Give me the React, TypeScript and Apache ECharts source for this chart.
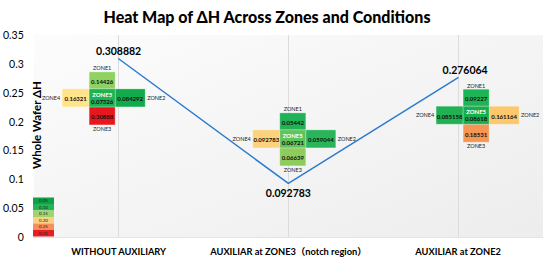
import React, { useEffect, useRef } from 'react';
import * as echarts from 'echarts';

const chartTitle = 'Heat Map of ΔH Across Zones and Conditions';
const yAxisTitle = 'Whole Wafer ΔH';
const conditions = ['WITHOUT AUXILIARY', 'AUXILIAR at ZONE3（notch region）', 'AUXILIAR at ZONE2'];
const wholeWaferDH = [0.308882, 0.092783, 0.276064];

const zoneNames = ['ZONE1', 'ZONE2', 'ZONE3', 'ZONE4', 'ZONE5'];
const zone1Values = [0.14426, 0.05442, 0.09227];
const zone2Values = [0.084292, 0.059044, 0.161164];
const zone3Values = [0.30888, 0.06639, 0.18531];
const zone4Values = [0.16321, 0.092783, 0.085158];
const zone5Values = [0.07326, 0.06721, 0.08618];

const zone1Colors = ['#8fd262', '#20b256', '#1db455'];
const zone2Colors = ['#12ab4b', '#2bb55a', '#fcc86e'];
const zone3Colors = ['#e8171d', '#8fcc5e', '#f79654'];
const zone4Colors = ['#ffe48a', '#fcd27c', '#1fb152'];
const zone5Colors = ['#1db254', '#60c35d', '#17ae4f'];

// cross centre: y in axis units, x shift in fractions of a category band
const crossAnchorY = [0.241, 0.17, 0.211];
const crossShift = [-0.097, 0.026, 0.106];

const legendLabels = ['0.05', '0.10', '0.15', '0.20', '0.25', '0.31'];
const legendColors = ['#10a048', '#24b457', '#a3d36b', '#fdd185', '#f6905a', '#e61e25'];

const FONT = 'Lato, "Noto Sans CJK SC", sans-serif';

function fmt(v: number) {
  return String(v);
}

function buildOption() {
  const legendGraphics: any[] = [];
  legendLabels.forEach((lab, i) => {
    legendGraphics.push({
      type: 'rect',
      shape: { x: 33, y: 197.5 + i * 6.5, width: 21, height: 6.5 },
      style: { fill: legendColors[i] },
      z: 10,
    });
    legendGraphics.push({
      type: 'text',
      x: 43.5,
      y: 197.5 + i * 6.5 + 3.4,
      style: {
        text: lab,
        fill: '#222',
        fontSize: 4.5,
        fontFamily: FONT,
        align: 'center',
        verticalAlign: 'middle',
      },
      z: 11,
    });
  });

  return {
    animation: false,
    backgroundColor: '#ffffff',
    title: {
      text: chartTitle,
      left: 262,
      top: 3,
      textAlign: 'center',
      textStyle: { fontFamily: FONT, fontWeight: 900, fontSize: 16, color: '#000' },
    },
    grid: {
      left: 33,
      right: 7,
      top: 35,
      bottom: 22,
      show: true,
      borderWidth: 0,
      backgroundColor: new echarts.graphic.LinearGradient(0, 0, 1, 1, [
        { offset: 0, color: '#fcfcfc' },
        { offset: 1, color: '#ededed' },
      ]),
    },
    xAxis: {
      type: 'category',
      data: conditions,
      axisLine: { show: true, lineStyle: { color: '#e4e4e4' } },
      axisTick: { show: false },
      axisLabel: {
        fontFamily: FONT,
        fontWeight: 'bold',
        fontSize: 9.3,
        color: '#000',
        margin: 10,
        interval: 0,
      },
      splitLine: { show: false },
    },
    yAxis: {
      type: 'value',
      min: 0,
      max: 0.35,
      interval: 0.05,
      axisLine: { show: false },
      axisTick: { show: false },
      splitLine: { show: false },
      axisLabel: { fontFamily: FONT, fontSize: 10.5, color: '#000', margin: 10 },
    },
    graphic: [
      {
        type: 'text',
        x: 36.5,
        y: 125,
        rotation: Math.PI / 2,
        style: {
          text: yAxisTitle,
          fill: '#000',
          fontSize: 11.5,
          fontWeight: 'bold',
          fontFamily: FONT,
          align: 'center',
          verticalAlign: 'middle',
        },
        z: 10,
      },
      ...legendGraphics,
    ],
    series: [
      {
        type: 'line',
        data: [],
        z: 1,
        silent: true,
        markLine: {
          z: 1,
          silent: true,
          symbol: ['none', 'none'],
          label: { show: false },
          lineStyle: { color: '#dcdcdc', type: 'solid', width: 1 },
          data: conditions.map((c) => ({ xAxis: c })),
        },
      },
      {
        type: 'line',
        data: wholeWaferDH.map((v, i) => ({
          value: v,
          label:
            i === 1
              ? { position: 'bottom', distance: 4 }
              : i === 2
              ? { position: 'top', offset: [7, 0], distance: 2 }
              : { position: 'top', distance: 2 },
        })),
        z: 3,
        symbol: 'circle',
        symbolSize: 1,
        lineStyle: { color: '#2b7bd0', width: 1.5 },
        itemStyle: { color: '#2b7bd0' },
        label: {
          show: true,
          fontFamily: FONT,
          fontWeight: 'bold',
          fontSize: 10.5,
          color: '#000',
          formatter: (p: any) => fmt(p.value),
        },
      },
      {
        type: 'custom',
        z: 5,
        data: conditions.map((c, i) => [i, crossAnchorY[i]]),
        renderItem: (params: any, api: any) => {
          const i = params.dataIndex;
          const base = api.coord([api.value(0), api.value(1)]);
          const band = api.size([1, 0])[0];
          const cx = base[0] + crossShift[i] * band;
          const cy = base[1];
          const cells = [
            { zone: 0, x: -13, y: -26, w: 26, h: 17, v: zone1Values[i], c: zone1Colors[i] },
            { zone: 1, x: 13, y: -9, w: 30, h: 18, v: zone2Values[i], c: zone2Colors[i] },
            { zone: 2, x: -13, y: 9, w: 26, h: 18, v: zone3Values[i], c: zone3Colors[i] },
            { zone: 3, x: -40, y: -9, w: 27, h: 18, v: zone4Values[i], c: zone4Colors[i] },
            { zone: 4, x: -13, y: -9, w: 26, h: 18, v: zone5Values[i], c: zone5Colors[i] },
          ];
          const children: any[] = [];
          const valStyle = {
            fill: '#111',
            fontSize: 6,
            fontWeight: 'bold',
            fontFamily: FONT,
            align: 'center',
            verticalAlign: 'middle',
          };
          const zoneStyle = {
            fill: '#222',
            fontSize: 5.5,
            fontFamily: FONT,
            verticalAlign: 'middle',
          };
          cells.forEach((cell) => {
            children.push({
              type: 'rect',
              shape: { x: cx + cell.x, y: cy + cell.y, width: cell.w, height: cell.h },
              style: { fill: cell.c, stroke: 'rgba(255,255,255,0.5)', lineWidth: 0.5 },
            });
            if (cell.zone === 4) {
              children.push({
                type: 'text',
                x: cx,
                y: cy - 3.5,
                style: { ...valStyle, text: zoneNames[4], fill: '#ffffff' },
              });
              children.push({
                type: 'text',
                x: cx,
                y: cy + 3.5,
                style: { ...valStyle, text: fmt(cell.v) },
              });
            } else {
              children.push({
                type: 'text',
                x: cx + cell.x + cell.w / 2,
                y: cy + cell.y + cell.h / 2 + 1,
                style: { ...valStyle, text: fmt(cell.v) },
              });
            }
          });
          children.push({ type: 'text', x: cx, y: cy - 29.5, style: { ...zoneStyle, text: zoneNames[0], align: 'center' } });
          children.push({ type: 'text', x: cx + 45, y: cy, style: { ...zoneStyle, text: zoneNames[1], align: 'left' } });
          children.push({ type: 'text', x: cx, y: cy + 31, style: { ...zoneStyle, text: zoneNames[2], align: 'center' } });
          children.push({ type: 'text', x: cx - 42, y: cy, style: { ...zoneStyle, text: zoneNames[3], align: 'right' } });
          return { type: 'group', children };
        },
      },
    ],
  };
}

export default function App() {
  const ref = useRef<HTMLDivElement>(null);
  useEffect(() => {
    const chart = echarts.init(ref.current!, null, { renderer: 'svg' });
    chart.setOption(buildOption() as any);
    return () => chart.dispose();
  }, []);
  return <div ref={ref} style={{ position: 'absolute', left: 0, top: 0, width: 550, height: 259 }} />;
}
